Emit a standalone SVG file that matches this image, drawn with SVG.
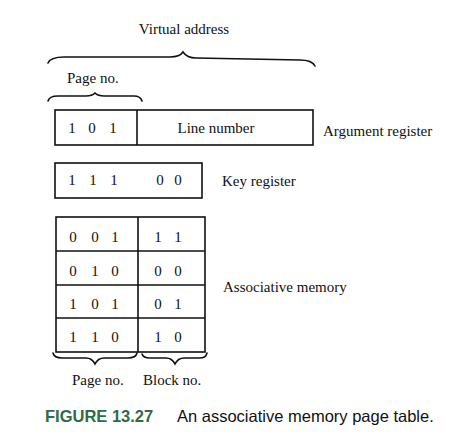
<svg xmlns="http://www.w3.org/2000/svg" width="474" height="448" viewBox="0 0 474 448">
<style>
.box{fill:none;stroke:#111;stroke-width:1.6}
.br{fill:none;stroke:#111;stroke-width:1.6;stroke-linecap:round}
.t{font-family:"Liberation Serif","Times New Roman",serif;font-size:15px;fill:#111}
.c{text-anchor:middle}
.cap{font-family:"Liberation Sans",Arial,sans-serif;font-size:16.5px;fill:#111}
.fig{font-family:"Liberation Sans",Arial,sans-serif;font-size:16.5px;font-weight:bold;fill:#2f6b45}
</style>
<rect width="474" height="448" fill="#fff"/>
<g id="braces">
<path class="br" d="M48,63 C50,58 56,57 64,57 L170,57 C178,57 181,55 183,52 C185,55 188,58 196,58 L300,60 C308,60 313,62 315,66"/>
<path class="br" d="M48,101 C49,97 53,96 58,96 L86,96 C91,96 93,95 95,93 C97,95 99,96 104,96 L134,96 C138,96 141,98 142,101"/>
<path class="br" d="M53,353 C54,357 57,358 62,358 L86,358 C91,358 93,360 95,364 C97,360 99,358 104,358 L128,358 C133,358 136,357 137,353"/>
<path class="br" d="M142,354 C143,357 146,358 150,358 L166,358 C171,358 173,360 175,364 C177,360 179,358 184,358 L199,358 C204,358 206,357 207,353"/>
</g>
<g id="labels">
<text class="t c" x="184" y="34">Virtual address</text>
<text class="t" x="67" y="83">Page no.</text>
<text class="t" x="72" y="385">Page no.</text>
<text class="t" x="143" y="385">Block no.</text>
</g>
<g id="argument-register">
<rect class="box" x="55" y="110" width="258" height="35"/>
<line class="box" x1="137" y1="110" x2="137" y2="145"/>
<text class="t c" x="72 92 113" y="133">101</text>
<text class="t c" x="216" y="133">Line number</text>
<text class="t" x="323" y="136">Argument register</text>
</g>
<g id="key-register">
<rect class="box" x="55" y="163" width="147" height="35"/>
<text class="t c" x="72 93 114 160 178" y="185">11100</text>
<text class="t" x="222" y="186">Key register</text>
</g>
<g id="associative-memory">
<rect class="box" x="56" y="217" width="149" height="135"/>
<line class="box" x1="138" y1="217" x2="138" y2="352"/>
<line class="box" x1="56" y1="251" x2="205" y2="251"/>
<line class="box" x1="56" y1="285" x2="205" y2="285"/>
<line class="box" x1="56" y1="318" x2="205" y2="318"/>
<text class="t c" x="73 95 115 158 178" y="242">00111</text>
<text class="t c" x="73 95 115 158 178" y="276">01000</text>
<text class="t c" x="73 95 115 158 178" y="309">10101</text>
<text class="t c" x="73 95 115 158 178" y="342">11010</text>
<text class="t" x="223" y="292">Associative memory</text>
</g>
<g id="caption">
<text class="fig" x="45" y="422">FIGURE 13.27</text>
<text class="cap" x="177" y="422">An associative memory page table.</text>
</g>
</svg>
